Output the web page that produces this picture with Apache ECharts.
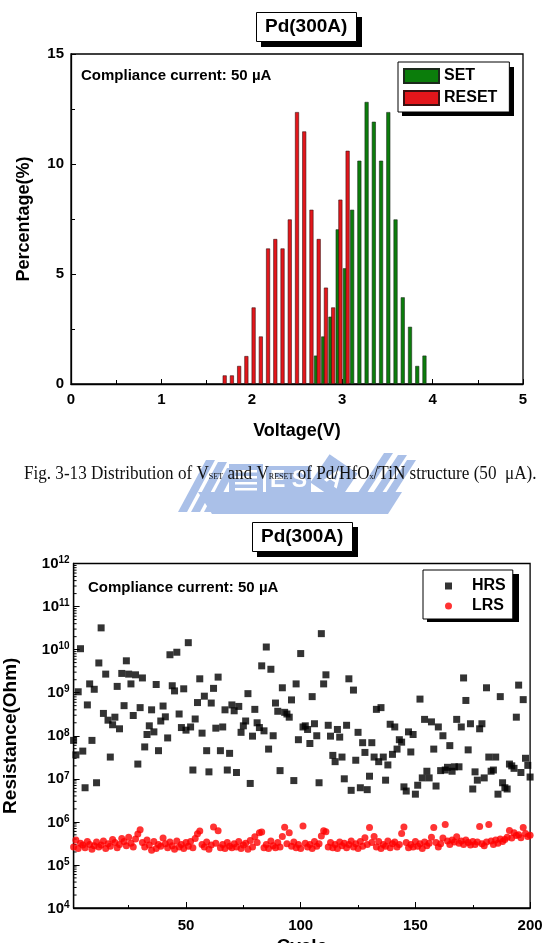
<!DOCTYPE html>
<html>
<head>
<meta charset="utf-8">
<script src="https://cdn.jsdelivr.net/npm/echarts@6/dist/echarts.min.js"></script>
<style>
  html, body { margin: 0; padding: 0; background: #fff; }
  #main { width: 543px; height: 943px; }
</style>
</head>
<body>
<div id="main"></div>
<script>
// ---- top chart: V_SET / V_RESET histogram (bin centre in V, percentage) ----
const resetVolt = [1.70, 1.78, 1.86, 1.94, 2.02, 2.10, 2.18, 2.26, 2.34, 2.42, 2.50, 2.58, 2.66, 2.74, 2.82, 2.90, 2.98, 3.06];
const resetPct  = [0.39, 0.39, 0.82, 1.27, 3.48, 2.16, 6.16, 6.59, 6.16, 7.48, 12.36, 11.48, 7.92, 6.59, 4.38, 3.48, 8.38, 10.6];
const setVolt   = [2.71, 2.79, 2.87, 2.95, 3.03, 3.11, 3.19, 3.27, 3.35, 3.43, 3.51, 3.59, 3.67, 3.75, 3.83, 3.91];
const setPct    = [1.29, 2.16, 3.06, 7.03, 5.26, 7.92, 10.15, 12.82, 11.92, 10.15, 12.36, 7.48, 3.94, 2.6, 0.82, 1.29];

// ---- bottom chart: resistance vs cycle (cycles 1..200) ----
const hrs = [
  7.8e7, 3.6e7, 1.05e9, 1.05e10, 4.4e7, 6.2e6, 5.2e8, 1.6e9, 7.8e7, 1.2e9,
  8.1e6, 4.9e9, 3.2e10, 3.3e8, 2.7e9, 2.3e8, 3.2e7, 1.8e8, 2.7e8, 1.4e9,
  1.45e8, 2.8e9, 5.0e8, 5.5e9, 2.7e9, 1.6e9, 2.95e8, 2.6e9, 2.2e7, 4.5e8,
  2.2e9, 5.5e7, 1.07e8, 1.7e8, 4.0e8, 1.23e8, 1.55e9, 4.5e7, 2.2e8, 4.9e8,
  2.75e8, 8.9e7, 7.6e9, 1.45e9, 1.1e9, 8.7e9, 3.2e8, 1.55e8, 1.23e9, 1.35e8,
  1.45e10, 1.6e8, 1.6e7, 2.45e8, 5.9e8, 2.1e9, 1.15e8, 8.3e8, 4.5e7, 1.45e7,
  5.75e8, 1.26e9, 1.5e8, 2.3e9, 4.5e7, 1.6e8, 4.0e8, 1.6e7, 3.9e7, 5.2e8,
  3.8e8, 1.4e7, 4.8e8, 1.2e8, 1.7e8, 2.2e8, 9.5e8, 7.8e6, 9.8e7, 4.1e8,
  2.0e8, 1.55e8, 4.2e9, 1.3e8, 1.15e10, 4.9e7, 3.5e9, 1.0e8, 5.75e8, 3.7e8,
  1.55e7, 1.3e9, 3.5e8, 3.2e8, 2.7e8, 6.8e8, 9.1e6, 1.6e9, 8.1e7, 8.1e9,
  1.6e8, 1.7e8, 1.4e8, 6.6e7, 8.1e8, 1.9e8, 1.0e8, 8.1e6, 2.35e10, 1.6e9,
  2.6e9, 1.75e8, 9.8e7, 3.5e7, 2.5e7, 1.4e8, 9.3e7, 3.2e7, 1.0e7, 1.75e8,
  2.1e9, 5.4e6, 1.15e9, 2.7e7, 1.2e8, 6.2e6, 6.9e7, 4.1e7, 5.6e6, 1.15e7,
  6.9e7, 3.2e7, 4.1e8, 2.5e7, 4.5e8, 3.2e7, 9.3e6, 2.1e7, 1.85e8, 3.7e7,
  1.6e8, 4.9e7, 8.1e7, 7.1e7, 6.5e6, 5.2e6, 1.23e8, 4.2e7, 1.07e8, 4.4e6,
  7.1e6, 7.1e8, 1.05e7, 2.4e8, 1.5e7, 1.05e7, 2.1e8, 4.9e7, 6.8e6, 1.6e8,
  1.55e7, 1.0e8, 1.6e7, 1.85e7, 5.9e7, 1.5e7, 1.9e7, 2.4e8, 1.9e7, 1.6e8,
  2.2e9, 6.6e8, 4.7e7, 1.9e8, 5.8e6, 1.45e7, 9.3e6, 1.45e8, 1.9e8, 1.05e7,
  1.3e9, 3.2e7, 1.5e7, 1.6e7, 3.2e7, 4.4e6, 8.1e8, 8.1e6, 6.2e6, 5.8e6,
  2.2e7, 2.0e7, 1.75e7, 2.7e8, 1.5e9, 1.4e7, 6.9e8, 3.0e7, 2.05e7, 1.1e7
];
const lrs = [
  2.6e5, 3.8e5, 2.4e5, 3.2e5, 2.9e5, 2.5e5, 3.5e5, 3.0e5, 2.3e5, 2.8e5,
  3.4e5, 2.6e5, 2.9e5, 3.6e5, 2.4e5, 3.1e5, 2.7e5, 3.9e5, 3.3e5, 2.5e5,
  3.0e5, 4.1e5, 3.5e5, 2.8e5, 4.4e5, 3.2e5, 2.6e5, 4.0e5, 5.2e5, 6.6e5,
  3.3e5, 2.6e5, 3.8e5, 2.9e5, 2.2e5, 3.5e5, 2.4e5, 3.0e5, 2.7e5, 4.2e5,
  3.1e5, 2.5e5, 3.4e5, 2.8e5, 2.3e5, 3.6e5, 2.6e5, 3.0e5, 2.4e5, 3.3e5,
  2.7e5, 3.5e5, 2.5e5, 4.1e5, 5.3e5, 6.1e5, 3.0e5, 2.6e5, 3.4e5, 2.3e5,
  2.9e5, 7.6e5, 3.2e5, 6.2e5, 2.5e5, 3.0e5, 2.4e5, 3.3e5, 2.7e5, 2.5e5,
  3.1e5, 2.6e5, 3.5e5, 2.4e5, 2.9e5, 3.2e5, 2.3e5, 3.7e5, 2.6e5, 4.5e5,
  3.3e5, 5.6e5, 5.8e5, 2.5e5, 3.0e5, 2.4e5, 3.6e5, 2.8e5, 2.5e5, 3.3e5,
  2.6e5, 4.6e5, 7.5e5, 3.1e5, 5.6e5, 2.7e5, 3.4e5, 2.5e5, 3.0e5, 2.4e5,
  8.0e5, 3.2e5, 2.6e5, 3.0e5, 2.4e5, 3.5e5, 2.7e5, 3.1e5, 4.7e5, 6.2e5,
  5.9e5, 2.6e5, 3.3e5, 2.5e5, 3.0e5, 2.4e5, 3.4e5, 2.8e5, 3.2e5, 2.5e5,
  3.0e5, 3.6e5, 2.6e5, 3.1e5, 2.4e5, 3.5e5, 2.7e5, 4.3e5, 3.0e5, 7.4e5,
  3.3e5, 4.6e5, 2.6e5, 3.5e5, 2.4e5, 3.0e5, 2.7e5, 3.6e5, 2.5e5, 3.1e5,
  3.4e5, 2.6e5, 3.0e5, 5.4e5, 7.6e5, 3.3e5, 2.5e5, 3.0e5, 2.6e5, 3.5e5,
  2.7e5, 3.1e5, 2.4e5, 3.4e5, 2.8e5, 3.2e5, 4.4e5, 7.4e5, 3.3e5, 2.6e5,
  3.1e5, 4.2e5, 8.7e5, 3.6e5, 3.0e5, 3.8e5, 3.4e5, 4.5e5, 3.2e5, 3.6e5,
  3.0e5, 3.8e5, 3.3e5, 2.9e5, 3.5e5, 3.0e5, 3.4e5, 7.8e5, 3.1e5, 2.8e5,
  3.4e5, 8.7e5, 3.6e5, 3.0e5, 3.8e5, 3.2e5, 4.0e5, 3.5e5, 3.9e5, 4.4e5,
  6.3e5, 4.2e5, 5.6e5, 4.8e5, 5.0e5, 4.3e5, 7.4e5, 5.4e5, 4.6e5, 4.9e5
];

// tick labels
const voltTicks = [0, 1, 2, 3, 4, 5];
const pctTicks = [0, 5, 10, 15];
const cycleTicks = [50, 100, 150, 200];
const cycleMinorTicks = [25, 75, 125, 175];

const FONT = 'Liberation Sans';
const bold = (size) => ({ fontFamily: FONT, fontWeight: 'bold', fontSize: size, color: '#000' });

const setData = setVolt.map((v, i) => [v, setPct[i]]);
const resetData = resetVolt.map((v, i) => [v, resetPct[i]]);
const hrsData = hrs.map((r, i) => [i + 1, r]);
const lrsData = lrs.map((r, i) => [i + 1, r]);

// minor log ticks (2..9 in every decade) placed through the log axis
const logMinor = [];
for (let e = 4; e < 12; e++) {
  for (let k = 2; k <= 9; k++) logMinor.push([1, k * Math.pow(10, e)]);
}

const wm = '#aac0e8';
const watermark = {
  type: 'group', silent: true, z: 0,
  children: [
    { type: 'polygon', shape: { points: [[178, 512], [187, 512], [215, 460], [206, 460]] }, style: { fill: wm } },
    { type: 'polygon', shape: { points: [[191, 512], [200, 512], [227, 462], [218, 462]] }, style: { fill: wm } },
    { type: 'polygon', shape: { points: [[204, 512], [213, 512], [236, 468], [227, 468]] }, style: { fill: wm } },
    { type: 'polygon', shape: { points: [[198, 492], [402, 492], [388, 514], [212, 514]] }, style: { fill: wm } },
    { type: 'rect', shape: { x: 229, y: 464, width: 34, height: 30 }, style: { fill: wm } },
    { type: 'rect', shape: { x: 235, y: 470, width: 22, height: 2.5 }, style: { fill: '#fff' } },
    { type: 'rect', shape: { x: 235, y: 476, width: 22, height: 2.5 }, style: { fill: '#fff' } },
    { type: 'rect', shape: { x: 235, y: 482, width: 22, height: 2.5 }, style: { fill: '#fff' } },
    { type: 'rect', shape: { x: 235, y: 488, width: 22, height: 2.5 }, style: { fill: '#fff' } },
    { type: 'rect', shape: { x: 266, y: 466, width: 45, height: 29 }, style: { fill: wm } },
    { type: 'text', x: 288.5, y: 481, style: { text: 'E S', fill: '#fff', font: 'bold 23px "Liberation Sans"', align: 'center', verticalAlign: 'middle' } },
    { type: 'rect', x: 334, y: 478, rotation: -0.6, shape: { x: -17, y: -17, width: 34, height: 34 }, style: { fill: wm } },
    { type: 'text', x: 334, y: 479, rotation: -0.6, style: { text: 'A', fill: '#fff', font: 'bold 23px "Liberation Sans"', align: 'center', verticalAlign: 'middle' } },
    { type: 'polygon', shape: { points: [[350, 505], [359, 505], [393, 453], [384, 453]] }, style: { fill: wm } },
    { type: 'polygon', shape: { points: [[365, 505], [374, 505], [407, 455], [398, 455]] }, style: { fill: wm } },
    { type: 'polygon', shape: { points: [[380, 502], [389, 502], [416, 460], [407, 460]] }, style: { fill: wm } }
  ]
};

const chart = echarts.init(document.getElementById('main'), null, { renderer: 'canvas' });

chart.setOption({
  animation: false,
  backgroundColor: '#fff',
  textStyle: { fontFamily: FONT },
  title: [
    { text: 'Pd(300A)', left: 256, top: 12, padding: [5, 9, 5, 9], backgroundColor: '#fff', borderColor: '#000', borderWidth: 1,
      textStyle: Object.assign(bold(19), { lineHeight: 20 }) },
    { text: 'Pd(300A)', left: 252, top: 522, padding: [5, 9, 5, 9], backgroundColor: '#fff', borderColor: '#000', borderWidth: 1,
      textStyle: Object.assign(bold(19), { lineHeight: 20 }) }
  ],
  legend: [
    { data: ['SET', 'RESET'], left: 398, top: 62, orient: 'vertical', icon: 'rect',
      itemWidth: 35, itemHeight: 14, itemGap: 6, padding: [6, 12, 6, 5],
      backgroundColor: '#fff', borderColor: '#000', borderWidth: 1, textStyle: bold(16) },
    { data: [{ name: 'HRS', icon: 'rect' }, { name: 'LRS', icon: 'circle' }], left: 423, top: 570, orient: 'vertical',
      itemWidth: 7, itemHeight: 7, itemGap: 4, padding: [8, 7, 5, 22],
      backgroundColor: '#fff', borderColor: '#000', borderWidth: 1,
      textStyle: Object.assign(bold(16), { padding: [0, 0, 0, 15] }) }
  ],
  grid: [
    { left: 71, right: 20, top: 54, height: 330, outerBoundsMode: 'none',
      show: true, borderColor: '#000', borderWidth: 1.3, backgroundColor: 'transparent' },
    { left: 73.6, right: 12.9, top: 563.5, bottom: 35, outerBoundsMode: 'none',
      show: true, borderColor: '#000', borderWidth: 1.3, backgroundColor: 'transparent' }
  ],
  xAxis: [
    { type: 'value', gridIndex: 0, min: voltTicks[0], max: voltTicks[voltTicks.length - 1], interval: 1,
      axisLine: { lineStyle: { color: '#000', width: 1.3 } },
      axisTick: { inside: true, length: 5, lineStyle: { color: '#000' } },
      minorTick: { show: true, splitNumber: 2, length: 4, lineStyle: { color: '#000' } },
      axisLabel: Object.assign(bold(15), { margin: 8 }),
      splitLine: { show: false },
      name: 'Voltage(V)', nameLocation: 'middle', nameGap: 38, nameTextStyle: bold(18) },
    { type: 'value', gridIndex: 1, min: 1, max: 200,
      axisLine: { lineStyle: { color: '#000', width: 1.3 } },
      axisTick: { inside: true, length: 6, customValues: cycleTicks, lineStyle: { color: '#000' } },
      axisLabel: Object.assign(bold(15), { margin: 10, customValues: cycleTicks, showMinLabel: true, showMaxLabel: true }),
      splitLine: { show: false },
      name: 'Cycle', nameLocation: 'middle', nameGap: 29, nameTextStyle: bold(19) },
    { type: 'value', gridIndex: 1, min: 1, max: 200, position: 'bottom',
      axisLine: { show: false },
      axisTick: { inside: true, length: 3, customValues: cycleMinorTicks, lineStyle: { color: '#000' } },
      axisLabel: { show: false },
      splitLine: { show: false } }
  ],
  yAxis: [
    { type: 'value', gridIndex: 0, min: pctTicks[0], max: pctTicks[pctTicks.length - 1], interval: 5,
      axisLine: { show: true, lineStyle: { color: '#000', width: 1.3 } },
      axisTick: { show: true, inside: true, length: 5, lineStyle: { color: '#000' } },
      minorTick: { show: true, splitNumber: 2, length: 4, lineStyle: { color: '#000' } },
      axisLabel: Object.assign(bold(15), { margin: 7 }),
      splitLine: { show: false },
      name: 'Percentage(%)', nameLocation: 'middle', nameGap: 38, nameTextStyle: bold(18) },
    { type: 'log', logBase: 10, gridIndex: 1, min: 1e4, max: 1e12, interval: 1,
      axisLine: { show: true, lineStyle: { color: '#000', width: 1.3 } },
      axisTick: { show: true, inside: true, length: 6, lineStyle: { color: '#000' } },
      axisLabel: {
        margin: 4,
        formatter: (v) => '{b|10}{s|' + Math.round(Math.log10(v)) + '}',
        rich: {
          b: { fontFamily: FONT, fontWeight: 'bold', fontSize: 15, color: '#000', lineHeight: 16, verticalAlign: 'bottom' },
          s: { fontFamily: FONT, fontWeight: 'bold', fontSize: 10, color: '#000', lineHeight: 10, verticalAlign: 'top', padding: [0, 0, 8, 0] }
        }
      },
      splitLine: { show: false },
      name: 'Resistance(Ohm)', nameLocation: 'middle', nameGap: 53, nameTextStyle: bold(19) }
  ],
  series: [
    { name: 'SET', type: 'bar', xAxisIndex: 0, yAxisIndex: 0, data: setData, barWidth: 4, barGap: '-100%',
      itemStyle: { color: '#0b7d0b', borderColor: '#1c2a1c', borderWidth: 0.6 } },
    { name: 'RESET', type: 'bar', xAxisIndex: 0, yAxisIndex: 0, data: resetData, barWidth: 4, barGap: '-100%',
      itemStyle: { color: '#e3161b', borderColor: '#3a1010', borderWidth: 0.6 } },
    { name: 'HRS', type: 'scatter', xAxisIndex: 1, yAxisIndex: 1, data: hrsData, symbol: 'rect', symbolSize: 7,
      itemStyle: { color: '#000' } },
    { name: 'LRS', type: 'scatter', xAxisIndex: 1, yAxisIndex: 1, data: lrsData, symbol: 'circle', symbolSize: 7,
      itemStyle: { color: '#ff0000' } },
    { name: 'minor', type: 'custom', xAxisIndex: 1, yAxisIndex: 1, data: logMinor, silent: true,
      renderItem: (params, api) => {
        const p = api.coord([api.value(0), api.value(1)]);
        return { type: 'line', shape: { x1: p[0], y1: p[1], x2: p[0] + 3, y2: p[1] }, style: { stroke: '#000', lineWidth: 1 } };
      } }
  ],
  graphic: [
    watermark,
    // shadows behind title / legend boxes
    { type: 'rect', z: 1, silent: true, shape: { x: 261, y: 17, width: 101, height: 30 }, style: { fill: '#000' } },
    { type: 'rect', z: 1, silent: true, shape: { x: 402, y: 67, width: 112, height: 49 }, style: { fill: '#000' } },
    { type: 'rect', z: 1, silent: true, shape: { x: 257, y: 527, width: 101, height: 30 }, style: { fill: '#000' } },
    { type: 'rect', z: 1, silent: true, shape: { x: 427, y: 574, width: 92, height: 48 }, style: { fill: '#000' } },
    { type: 'text', x: 81, y: 76, style: { text: 'Compliance current: 50 µA', font: 'bold 15px "Liberation Sans"', fill: '#000', verticalAlign: 'middle' } },
    { type: 'text', x: 88, y: 588, style: { text: 'Compliance current: 50 µA', font: 'bold 15px "Liberation Sans"', fill: '#000', verticalAlign: 'middle' } },
    { type: 'text', x: 24, y: 474, scaleX: 0.9, z: 5,
      style: {
        text: 'Fig. 3-13 Distribution of V{s|SET} and V{s|RESET} of Pd/HfO{s|x}/TiN structure (50  μA).',
        font: '19px "Liberation Serif"', fill: '#111', verticalAlign: 'middle', lineHeight: 20,
        rich: { s: { fontFamily: 'Liberation Serif', fontSize: 9, lineHeight: 9, fill: '#111', verticalAlign: 'middle', padding: [6, 0, 0, 0] } }
      } }
  ]
});
</script>
</body>
</html>
